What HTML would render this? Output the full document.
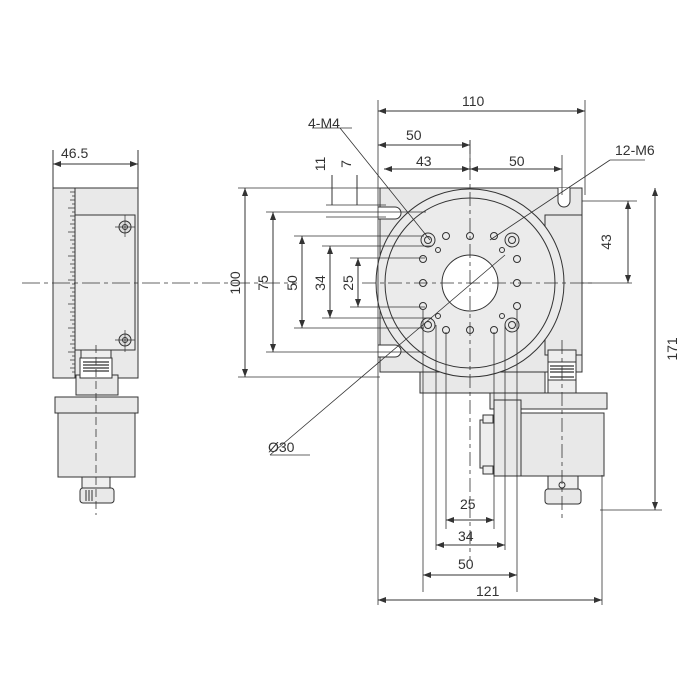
<!DOCTYPE html>
<html><head><style>body{margin:0;background:#fff}svg{display:block}text{font-family:"Liberation Sans",sans-serif;font-size:14px;fill:#333}</style></head><body>
<svg width="700" height="700" viewBox="0 0 700 700" xmlns="http://www.w3.org/2000/svg">
<defs><marker id="a" markerWidth="8" markerHeight="6" refX="8" refY="3" orient="auto-start-reverse"><path d="M0,0 L8,3 L0,6z" fill="#333"/></marker></defs>
<g stroke="#333" stroke-width="1" fill="none">
<!-- LEFT VIEW -->
<rect x="53" y="188" width="85" height="190" fill="#e9e9e9"/>
<rect x="75" y="215" width="60" height="135" fill="#ececec"/>
<line x1="75" y1="188" x2="75" y2="378"/>
<g stroke-width="0.8">
<path d="M75,192h-5M75,196h-3M75,200h-5M75,204h-3M75,208h-7M75,212h-3M75,216h-5M75,220h-3M75,224h-5M75,228h-3M75,232h-7M75,236h-3M75,240h-5M75,244h-3M75,248h-5M75,252h-3M75,256h-7M75,260h-3M75,264h-5M75,268h-3M75,272h-5M75,276h-3M75,280h-7M75,284h-3M75,288h-5M75,292h-3M75,296h-5M75,300h-3M75,304h-7M75,308h-3M75,312h-5M75,316h-3M75,320h-5M75,324h-3M75,328h-7M75,332h-3M75,336h-5M75,340h-3M75,344h-5M75,348h-3M75,352h-7M75,356h-3M75,360h-5M75,364h-3M75,368h-5M75,372h-3"/>
</g>
<circle cx="125" cy="227" r="6" fill="#ddd"/><circle cx="125" cy="227" r="2.5"/>
<circle cx="125" cy="340" r="6" fill="#ddd"/><circle cx="125" cy="340" r="2.5"/>
<path d="M115,227h20M125,215v22M115,340h20M125,330v22" stroke-width="0.7"/>
<rect x="81" y="350" width="30" height="45" fill="#eee"/>
<rect x="76" y="375" width="42" height="20" fill="#e9e9e9"/>
<rect x="80" y="358" width="32" height="20" fill="#fff"/>
<path d="M83,362h26M83,365h26M83,368h26M83,371h26" stroke-width="1.3"/>
<rect x="55" y="397" width="83" height="16" fill="#e9e9e9"/>
<rect x="58" y="413" width="77" height="64" fill="#e9e9e9"/>
<rect x="82" y="477" width="28" height="11" fill="#eee"/>
<rect x="80" y="488" width="34" height="15" rx="3" fill="#e9e9e9"/>
<path d="M86,490v11M89,490v11M92,490v11"/>
<path d="M22,283h275" stroke-dasharray="18,4,4,4" stroke-width="0.8" transform="scale(1)"/>
<path d="M96,345v170" stroke-dasharray="8,4" stroke-width="0.8"/>
<path d="M53,150v38M138,150v38"/>
<line x1="53" y1="164" x2="138" y2="164" marker-start="url(#a)" marker-end="url(#a)"/>

<!-- MAIN VIEW body -->
<path d="M380,188H582V372H380Z" fill="#e8e8e8"/>
<rect x="545" y="215" width="37" height="140" fill="#e8e8e8"/>
<rect x="420" y="372" width="125" height="21" fill="#e8e8e8"/>
<circle cx="470" cy="283" r="94" fill="#ebebeb"/>
<circle cx="470" cy="283" r="85"/>
<circle cx="470" cy="283" r="28" fill="#fff"/>
<!-- slots -->
<path d="M378,207h17a5,5 0 0 1 0,12h-17" fill="#fff"/>
<path d="M378,345h17a5,5 0 0 1 0,12h-17" fill="#fff"/>
<path d="M558,188v13a6,6 0 0 0 12,0v-13" fill="#fff"/>
<!-- holes -->
<g fill="#e8e8e8">
<circle cx="428" cy="240" r="7"/><circle cx="512" cy="240" r="7"/><circle cx="428" cy="325" r="7"/><circle cx="512" cy="325" r="7"/>
</g>
<g>
<circle cx="428" cy="240" r="3.5"/><circle cx="512" cy="240" r="3.5"/><circle cx="428" cy="325" r="3.5"/><circle cx="512" cy="325" r="3.5"/>
<circle cx="446" cy="236" r="3.5"/><circle cx="470" cy="236" r="3.5"/><circle cx="494" cy="236" r="3.5"/>
<circle cx="446" cy="330" r="3.5"/><circle cx="470" cy="330" r="3.5"/><circle cx="494" cy="330" r="3.5"/>
<circle cx="423" cy="259" r="3.5"/><circle cx="423" cy="283" r="3.5"/><circle cx="423" cy="306" r="3.5"/>
<circle cx="517" cy="259" r="3.5"/><circle cx="517" cy="283" r="3.5"/><circle cx="517" cy="306" r="3.5"/>
<circle cx="438" cy="250" r="2.5"/><circle cx="502" cy="250" r="2.5"/><circle cx="438" cy="316" r="2.5"/><circle cx="502" cy="316" r="2.5"/>
</g>
<!-- right knob -->
<rect x="548" y="350" width="28" height="45" fill="#eee"/>
<rect x="548" y="362" width="28" height="18" fill="#fff"/>
<path d="M550,366h24M550,369h24M550,372h24M550,377h24" stroke-width="1.3"/>
<rect x="490" y="393" width="117" height="16" fill="#e8e8e8"/>
<rect x="494" y="400" width="27" height="76" fill="#e8e8e8"/>
<rect x="521" y="413" width="83" height="63" fill="#e8e8e8"/>
<rect x="480" y="420" width="14" height="48" fill="#eee"/>
<rect x="483" y="415" width="10" height="8" fill="#eee"/><rect x="483" y="466" width="10" height="8" fill="#eee"/>
<rect x="548" y="476" width="30" height="13" fill="#eee"/>
<rect x="545" y="489" width="36" height="15" rx="3" fill="#e8e8e8"/>
<circle cx="562" cy="485" r="3"/>
<!-- center lines -->
<g stroke-dasharray="14,4,4,4" stroke-width="0.8">
<path d="M362,283h230"/><path d="M470,140v420"/><path d="M562,340v180"/>
</g>
<!-- extension lines -->
<g stroke-width="0.8">
<path d="M378,100v505M585,100v95M470,140v30M562,155v40"/>
<path d="M238,188h142M238,377h142M266,212h160M266,352h160M294,236h130M294,328h130M322,246h110M322,318h110M350,258h75M350,307h75"/>
<path d="M326,205h60M326,217h60M355,205h30"/>
<path d="M582,201h55M582,283h50M600,510h62"/>
<path d="M423,310v282M436,325v225M446,332v197M494,332v197M505,325v225M517,310v282M602,475v130"/>
</g>
<!-- dimension lines -->
<g marker-start="url(#a)" marker-end="url(#a)">
<line x1="378" y1="111" x2="585" y2="111"/>
<line x1="378" y1="145" x2="470" y2="145"/>
<line x1="384" y1="169" x2="470" y2="169"/>
<line x1="470" y1="169" x2="562" y2="169"/>
<line x1="245" y1="188" x2="245" y2="377"/>
<line x1="273" y1="212" x2="273" y2="352"/>
<line x1="302" y1="236" x2="302" y2="328"/>
<line x1="330" y1="246" x2="330" y2="318"/>
<line x1="358" y1="258" x2="358" y2="307"/>
<line x1="628" y1="201" x2="628" y2="283"/>
<line x1="655" y1="188" x2="655" y2="510"/>
<line x1="446" y1="520" x2="494" y2="520"/>
<line x1="436" y1="545" x2="505" y2="545"/>
<line x1="423" y1="575" x2="517" y2="575"/>
<line x1="378" y1="600" x2="602" y2="600"/>
</g>
<path d="M332,175v30M357,175v30" />
<!-- leaders -->
<path d="M340,128L430,240M352,128h-40" stroke-width="0.8"/>
<path d="M610,160L490,240M610,160h35" stroke-width="0.8"/>
<path d="M270,455L505,255M270,455h40" stroke-width="0.8"/>
</g>
<text x="61" y="158">46.5</text>
<text x="462" y="106">110</text>
<text x="406" y="140">50</text>
<text x="416" y="166">43</text>
<text x="509" y="166">50</text>
<text x="308" y="128">4-M4</text>
<text x="615" y="155">12-M6</text>
<text x="460" y="509">25</text>
<text x="458" y="541">34</text>
<text x="458" y="569">50</text>
<text x="476" y="596">121</text>
<text x="268" y="452">Ø30</text>
<g>
<text transform="translate(240,283) rotate(-90)" text-anchor="middle">100</text>
<text transform="translate(268,283) rotate(-90)" text-anchor="middle">75</text>
<text transform="translate(297,283) rotate(-90)" text-anchor="middle">50</text>
<text transform="translate(325,283) rotate(-90)" text-anchor="middle">34</text>
<text transform="translate(353,283) rotate(-90)" text-anchor="middle">25</text>
<text transform="translate(325,164) rotate(-90)" text-anchor="middle">11</text>
<text transform="translate(351,164) rotate(-90)" text-anchor="middle">7</text>
<text transform="translate(611,242) rotate(-90)" text-anchor="middle">43</text>
<text transform="translate(677,349) rotate(-90)" text-anchor="middle">171</text>
</g>
</svg>
</body></html>
